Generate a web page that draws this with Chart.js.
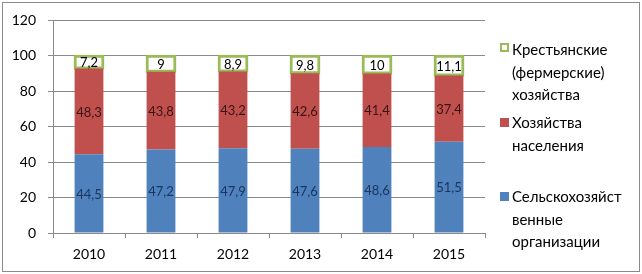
<!DOCTYPE html>
<html>
<head>
<meta charset="utf-8">
<script src="https://cdn.jsdelivr.net/npm/chart.js@4"></script>
<style>
  body { margin: 0; background: #fff; }
  #frame { position: absolute; left: 2px; top: 2px; width: 636px; height: 268px; border: 1px solid #8a8a8a; }
  #chart { position: absolute; left: 0; top: 0; }
  .leg { position: absolute; left: 512px; font-family: Lato, sans-serif; font-size: 15px; line-height: 22.5px; color: #000; }
  .mk { position: absolute; left: 500px; width: 9px; height: 9px; box-sizing: border-box; }
</style>
</head>
<body>
<div id="frame"></div>
<canvas id="chart" width="642" height="274"></canvas>
<div class="mk" style="top:43px; border:2px solid #9bbb59; background:#fff;"></div>
<div class="leg" style="top:38px;">Крестьянские<br>(фермерские)<br>хозяйства</div>
<div class="mk" style="top:118px; background:#c0504d;"></div>
<div class="leg" style="top:111px;">Хозяйства<br>населения</div>
<div class="mk" style="top:192px; background:#4f81bd;"></div>
<div class="leg" style="top:185px;">Сельскохозяйст<br>венные<br>организации</div>
<script>
// данные из диаграммы
const years = ['2010', '2011', '2012', '2013', '2014', '2015'];
const orgValues = [44.5, 47.2, 47.9, 47.6, 48.6, 51.5];
const householdValues = [48.3, 43.8, 43.2, 42.6, 41.4, 37.4];
const farmValues = [7.2, 9, 8.9, 9.8, 10, 11.1];
const yTicks = [0, 20, 40, 60, 80, 100, 120];

const labelColors = ['#1c3660', '#3a1414', '#000000'];

// подписи значений в центре каждого сегмента
const valueLabels = {
    id: 'valueLabels',
    afterDatasetsDraw(chart) {
        const ctx = chart.ctx;
        ctx.save();
        ctx.font = '13px Lato, sans-serif';
        ctx.textAlign = 'center';
        ctx.textBaseline = 'middle';
        chart.data.datasets.forEach((ds, di) => {
            const meta = chart.getDatasetMeta(di);
            meta.data.forEach((bar, i) => {
                const mid = (bar.y + bar.base) / 2;
                ctx.fillStyle = labelColors[di];
                ctx.fillText(String(ds.data[i]).replace('.', ','), bar.x, mid + 1);
            });
        });
        ctx.restore();
    }
};

new Chart(document.getElementById('chart'), {
    type: 'bar',
    data: {
        labels: years,
        datasets: [
            {
                label: 'Сельскохозяйственные организации',
                data: orgValues,
                backgroundColor: '#4f81bd',
                borderWidth: 0
            },
            {
                label: 'Хозяйства населения',
                data: householdValues,
                backgroundColor: '#c0504d',
                borderWidth: 0
            },
            {
                label: 'Крестьянские (фермерские) хозяйства',
                data: farmValues,
                backgroundColor: '#ffffff',
                borderColor: '#9bbb59',
                borderWidth: 3,
                borderSkipped: false,
                inflateAmount: 1
            }
        ]
    },
    options: {
        responsive: false,
        animation: false,
        layout: { padding: { top: 14, right: 157, left: 0, bottom: 0 } },
        datasets: { bar: { categoryPercentage: 1, barPercentage: 0.4 } },
        plugins: { legend: { display: false }, tooltip: { enabled: false } },
        scales: {
            x: {
                stacked: true,
                afterFit: s => { s.height = 41; },
                border: { color: '#8a8a8a' },
                grid: { drawOnChartArea: false, drawTicks: true, tickLength: 5, color: '#8a8a8a' },
                ticks: { color: '#000', font: { family: 'Lato', size: 14 }, padding: 8 }
            },
            y: {
                stacked: true,
                min: 0,
                max: 120,
                afterFit: s => { s.width = 53; },
                afterBuildTicks: s => { s.ticks = yTicks.map(v => ({ value: v })); },
                border: { color: '#8a8a8a' },
                grid: { color: '#8a8a8a', tickLength: 5 },
                ticks: { color: '#000', font: { family: 'Lato', size: 14 }, padding: 12 }
            }
        }
    },
    plugins: [valueLabels]
});
</script>
</body>
</html>
